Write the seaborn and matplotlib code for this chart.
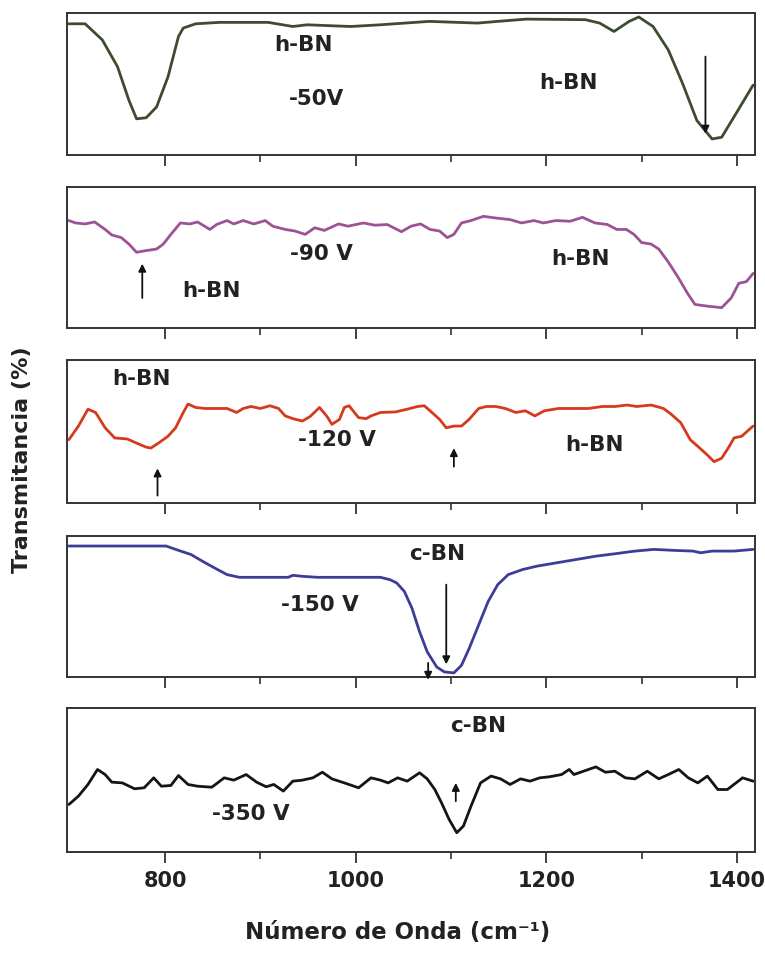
import matplotlib
matplotlib.use("Agg")
import matplotlib.pyplot as plt
import numpy as np
import seaborn as sns

# Espectros FTIR (transmitancia en unidades relativas de cada panel)
wn_50 = [699, 716, 734, 750, 762, 770, 780, 791, 803, 814, 819, 832, 857, 908, 934, 949,
         975, 995, 1026, 1077, 1128, 1149, 1179, 1241, 1256, 1271, 1287, 1297, 1312, 1328,
         1343, 1358, 1374, 1384, 1399, 1417]
t_50 = [0.924, 0.924, 0.811, 0.622, 0.385, 0.255, 0.262, 0.338, 0.551, 0.835, 0.894, 0.924,
        0.934, 0.934, 0.905, 0.917, 0.910, 0.905, 0.917, 0.941, 0.929, 0.941, 0.957, 0.953,
        0.929, 0.870, 0.941, 0.972, 0.905, 0.740, 0.504, 0.243, 0.113, 0.125, 0.291, 0.492]

wn_90 = [699, 706, 716, 726, 737, 744, 754, 762, 770, 780, 791, 798, 806, 816, 826, 834,
         847, 854, 865, 872, 882, 893, 905, 913, 926, 936, 947, 957, 967, 982, 992, 1008,
         1020, 1033, 1048, 1058, 1068, 1078, 1088, 1096, 1103, 1111, 1121, 1134, 1147, 1162,
         1174, 1187, 1197, 1210, 1225, 1238, 1251, 1264, 1274, 1284, 1292, 1300, 1310, 1318,
         1328, 1338, 1348, 1356, 1369, 1376, 1384, 1394, 1402, 1410, 1417]
t_90 = [0.762, 0.745, 0.738, 0.752, 0.699, 0.660, 0.641, 0.595, 0.537, 0.549, 0.560, 0.595,
        0.664, 0.745, 0.738, 0.752, 0.699, 0.734, 0.762, 0.738, 0.762, 0.738, 0.762, 0.722,
        0.699, 0.688, 0.664, 0.711, 0.692, 0.738, 0.722, 0.745, 0.729, 0.734, 0.683, 0.722,
        0.738, 0.699, 0.688, 0.641, 0.664, 0.745, 0.762, 0.792, 0.780, 0.769, 0.745, 0.762,
        0.745, 0.762, 0.757, 0.785, 0.745, 0.734, 0.699, 0.699, 0.664, 0.606, 0.595, 0.560,
        0.468, 0.363, 0.248, 0.167, 0.155, 0.150, 0.144, 0.213, 0.317, 0.329, 0.387]

wn_120 = [699, 709, 719, 727, 737, 747, 760, 770, 780, 785, 793, 803, 811, 819, 824, 832,
          842, 855, 865, 875, 882, 890, 900, 910, 919, 926, 934, 944, 952, 962, 970, 975,
          983, 988, 993, 1003, 1011, 1016, 1026, 1042, 1057, 1065, 1072, 1080, 1088, 1095,
          1103, 1111, 1119, 1129, 1137, 1147, 1157, 1168, 1178, 1188, 1198, 1213, 1229, 1244,
          1259, 1272, 1285, 1295, 1310, 1323, 1331, 1341, 1351, 1361, 1369, 1376, 1384, 1392,
          1397, 1405, 1417]
t_120 = [0.443, 0.538, 0.656, 0.633, 0.526, 0.455, 0.448, 0.419, 0.391, 0.384, 0.419, 0.467,
         0.526, 0.633, 0.692, 0.668, 0.661, 0.661, 0.661, 0.633, 0.661, 0.675, 0.661, 0.680,
         0.661, 0.609, 0.590, 0.573, 0.604, 0.668, 0.604, 0.550, 0.585, 0.668, 0.680, 0.597,
         0.590, 0.609, 0.633, 0.637, 0.661, 0.675, 0.680, 0.633, 0.585, 0.526, 0.538, 0.538,
         0.585, 0.661, 0.675, 0.675, 0.661, 0.633, 0.645, 0.609, 0.645, 0.661, 0.661, 0.661,
         0.675, 0.675, 0.685, 0.675, 0.685, 0.661, 0.621, 0.562, 0.443, 0.384, 0.336, 0.289,
         0.313, 0.396, 0.455, 0.467, 0.538]

wn_150 = [699, 801, 811, 827, 842, 855, 865, 878, 893, 929, 934, 944, 960, 985, 1026, 1036,
          1043, 1051, 1059, 1067, 1075, 1085, 1093, 1103, 1111, 1119, 1129, 1139, 1149, 1160,
          1175, 1190, 1211, 1231, 1252, 1272, 1293, 1313, 1334, 1354, 1362, 1374, 1397, 1417]
t_150 = [0.929, 0.929, 0.905, 0.869, 0.810, 0.762, 0.726, 0.707, 0.707, 0.707, 0.721, 0.714,
         0.707, 0.707, 0.707, 0.690, 0.667, 0.607, 0.488, 0.321, 0.179, 0.071, 0.036, 0.029,
         0.083, 0.202, 0.369, 0.536, 0.655, 0.726, 0.762, 0.786, 0.810, 0.833, 0.857, 0.874,
         0.893, 0.905, 0.898, 0.893, 0.881, 0.893, 0.893, 0.905]

wn_350 = [699, 709, 719, 729, 737, 744, 755, 768, 778, 788, 796, 806, 814, 824, 834, 849,
          862, 872, 885, 896, 906, 914, 924, 934, 944, 955, 965, 975, 988, 1003, 1016, 1026,
          1034, 1044, 1054, 1067, 1075, 1083, 1090, 1098, 1106, 1113, 1121, 1131, 1142, 1152,
          1162, 1173, 1183, 1193, 1203, 1216, 1224, 1229, 1239, 1252, 1262, 1272, 1283, 1293,
          1306, 1318, 1328, 1339, 1349, 1359, 1369, 1380, 1390, 1406, 1417]
t_350 = [0.330, 0.388, 0.469, 0.573, 0.538, 0.485, 0.480, 0.439, 0.446, 0.515, 0.457, 0.462,
         0.531, 0.469, 0.457, 0.450, 0.515, 0.499, 0.538, 0.485, 0.453, 0.469, 0.423, 0.492,
         0.499, 0.515, 0.554, 0.508, 0.480, 0.446, 0.515, 0.499, 0.480, 0.515, 0.492, 0.550,
         0.508, 0.434, 0.342, 0.226, 0.134, 0.180, 0.319, 0.480, 0.527, 0.508, 0.469, 0.508,
         0.492, 0.515, 0.522, 0.538, 0.573, 0.538, 0.561, 0.591, 0.554, 0.561, 0.515, 0.508,
         0.561, 0.508, 0.538, 0.573, 0.515, 0.480, 0.527, 0.434, 0.434, 0.515, 0.492]

spectra = [
    (wn_50, t_50, "#3d4b2e"),
    (wn_90, t_90, "#9c5296"),
    (wn_120, t_120, "#d63a1c"),
    (wn_150, t_150, "#3d3d98"),
    (wn_350, t_350, "#151515"),
]

# Etiquetas: (panel, texto, x, y)
labels = [
    (0, "h-BN", 945, 0.775), (0, "-50V", 959, 0.397), (0, "h-BN", 1223, 0.504),
    (1, "-90 V", 964, 0.525), (1, "h-BN", 1236, 0.49), (1, "h-BN", 849, 0.259),
    (2, "h-BN", 775, 0.870), (2, "-120 V", 980, 0.443), (2, "h-BN", 1251, 0.408),
    (3, "c-BN", 1085, 0.869), (3, "-150 V", 962, 0.512),
    (4, "c-BN", 1128, 0.873), (4, "-350 V", 890, 0.261),
]

# Flechas: (panel, x, y_cola, y_punta)
arrows = [
    (0, 1367, 0.693, 0.150),
    (1, 776, 0.213, 0.456),
    (2, 792, 0.052, 0.242),
    (2, 1103, 0.254, 0.384),
    (3, 1095, 0.655, 0.090),
    (3, 1076, 0.10, -0.02),
    (4, 1105, 0.353, 0.480),
]

sns.set_theme(style="ticks")
plt.rcParams["font.family"] = ["DejaVu Sans"]
plt.rcParams["axes.unicode_minus"] = False

W, H = 765, 957
fig = plt.figure(figsize=(W / 100, H / 100), dpi=100)
fig.patch.set_facecolor("white")

tops = [13, 187, 360, 536, 708]
heights = [142, 141, 143, 141, 144]
left, right = 67, 755

axes = []
for i, (wn, tr, col) in enumerate(spectra):
    ax = fig.add_axes([left / W, 1 - (tops[i] + heights[i]) / H,
                       (right - left) / W, heights[i] / H])
    sns.lineplot(x=np.array(wn), y=np.array(tr), ax=ax, color=col, linewidth=2.0)
    ax.set_xlim(697, 1419)
    ax.set_ylim(0, 1)
    ax.set_yticks([])
    ax.set_xticks([800, 1000, 1200, 1400])
    ax.set_xticks([900, 1100, 1300], minor=True)
    ax.tick_params(axis="x", which="major", direction="out", length=8, width=1.3,
                   color="#333333", pad=6, labelsize=15)
    ax.tick_params(axis="x", which="minor", direction="out", length=5, width=1.2,
                   color="#333333")
    for sp in ax.spines.values():
        sp.set_visible(True)
        sp.set_linewidth(1.4)
        sp.set_color("#333333")
    ax.set_xlabel("")
    ax.set_ylabel("")
    if i < 4:
        ax.set_xticklabels([])
    else:
        for lab in ax.get_xticklabels():
            lab.set_fontweight("bold")
            lab.set_color("#222222")
    axes.append(ax)

for p, txt, x, y in labels:
    axes[p].text(x, y, txt, ha="center", va="center", fontsize=15.5,
                 fontweight="bold", color="#222222")

for p, x, y0, y1 in arrows:
    axes[p].annotate("", xy=(x, y1), xytext=(x, y0), annotation_clip=False,
                     arrowprops=dict(arrowstyle="-|>", color="#111111", lw=1.3,
                                     mutation_scale=11, shrinkA=0, shrinkB=0))

fig.text(22 / W, 1 - 460 / H, "Transmitancia (%)", rotation=90, ha="center",
         va="center", fontsize=16, fontweight="bold", color="#222222")
fig.text(398 / W, 1 - 932 / H, "Número de Onda (cm⁻¹)", ha="center", va="center",
         fontsize=16.5, fontweight="bold", color="#222222")

fig.savefig("out.png", dpi=100, facecolor="white")
